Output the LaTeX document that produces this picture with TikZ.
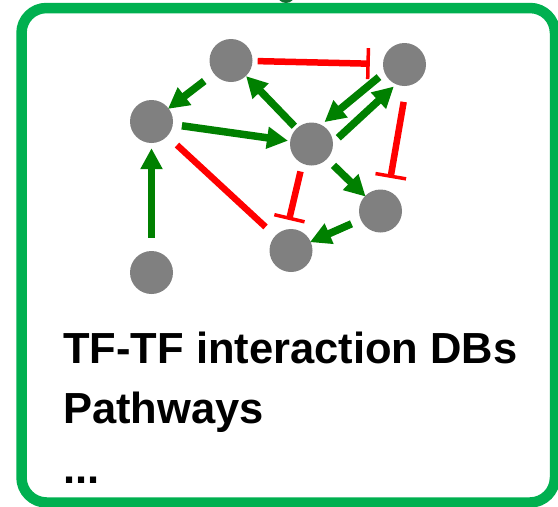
\documentclass[tikz,border=0pt]{standalone}
\usepackage{fontspec}
\setmainfont{Liberation Sans}
\usetikzlibrary{arrows.meta}
\definecolor{boxgreen}{RGB}{0,176,80}
\definecolor{knobgreen}{RGB}{20,110,50}
\definecolor{actgreen}{RGB}{0,128,0}
\definecolor{inhred}{RGB}{255,0,0}
\definecolor{nodegray}{RGB}{128,128,128}
\begin{document}
\begin{tikzpicture}[x=1pt,y=-1pt,
  tf/.style={circle, fill=nodegray, minimum size=43pt, inner sep=0pt},
  act/.style={draw=actgreen, line width=7.5pt, -{Triangle[length=21pt,width=21pt]}},
  inh/.style={draw=inhred, line width=6.5pt, -{Bar[width=31pt,line width=3.5pt]}},
  plaininh/.style={draw=inhred, line width=6.5pt},
  cardtext/.style={anchor=base west, inner sep=0pt, font=\fontsize{43.5}{52}\selectfont\bfseries}
]
\useasboundingbox (0,0) rectangle (558,507);

% card frame and the knob above it
\fill[knobgreen] (286,-6) circle (9pt);
\draw[boxgreen, line width=10.5pt, rounded corners=25pt] (21.5,8) rectangle (555,502.5);

% transcription factors
\node[tf] (A) at (231,60.5) {};
\node[tf] (B) at (404.5,64.5) {};
\node[tf] (C) at (151.5,121.5) {};
\node[tf] (D) at (311.5,144) {};
\node[tf] (E) at (380.5,211) {};
\node[tf] (F) at (291,250.5) {};
\node[tf] (G) at (151.5,272.5) {};

% interactions
\draw[inh, shorten <=5pt, shorten >=13pt] (A) -- (B);
\draw[act, shorten <=12pt, shorten >=-1pt] (A) -- (C);
\draw[act, shorten <=3pt] (D) -- (A);
\draw[act, shorten <=9pt, shorten >=2pt] (C) -- (D);
\draw[act, shorten <=13pt, shorten >=5pt] (G) -- (C);
\draw[plaininh, shorten <=13pt, shorten >=13pt] (C) -- (F);
\draw[act, shorten <=7pt, shorten >=4pt] (B.202) -- (D.63);
\draw[act, shorten <=7pt, shorten >=3pt] (D.4) -- (B.247);
\draw[inh, shorten <=8pt, shorten >=9.5pt] (D.245) -- (F.101);
\draw[inh, shorten <=16pt, shorten >=13pt] (B.275) -- (E.69);
\draw[act, shorten <=9pt, shorten >=-1pt] (D) -- (E);
\draw[act, shorten <=10pt, shorten >=-1pt] (E) -- (F);

% caption
\node[cardtext] (t1) at (63,363) {TF-TF interaction DBs};
\node[cardtext] (t2) at (63,423) {Pathways};
\node[cardtext] (t3) at (63,483) {...};
\end{tikzpicture}
\end{document}
